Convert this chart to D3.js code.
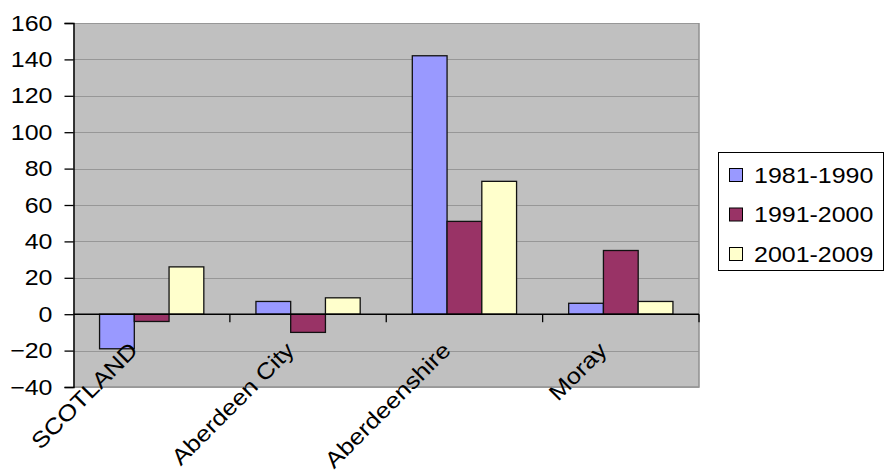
<!DOCTYPE html>
<html>
<head>
<meta charset="utf-8">
<script src="https://d3js.org/d3.v7.min.js"></script>
<style>
  body { margin: 0; background: #fff; }
  text { font-family: "Liberation Sans", Arial, sans-serif; fill: #000; }
</style>
</head>
<body>
<svg id="chart" width="886" height="472"></svg>
<script>
// data
var categories = ["SCOTLAND", "Aberdeen City", "Aberdeenshire", "Moray"];
var series = ["1981-1990", "1991-2000", "2001-2009"];
var v1981 = [-19, 7, 142, 6];
var v1991 = [-4, -10, 51, 35];
var v2001 = [26, 9, 73, 7];
var yTicks = [-40, -20, 0, 20, 40, 60, 80, 100, 120, 140, 160];
var colors = ["#9999ff", "#993366", "#ffffcc"];

var values = [v1981, v1991, v2001];

var svg = d3.select("#chart");
// (window.top is read-only, so plot edges get their own names)
var plotL = 73.5, plotR = 699, plotT = 23, plotB = 387;
var fontSize = 22.3, stretch = 1.12;

var x0 = d3.scaleBand().domain(categories).range([plotL, plotR]).padding(0);
var x1 = d3.scaleBand().domain(series).range([0, x0.bandwidth()])
    .paddingInner(0).paddingOuter(0.75);
var y = d3.scaleLinear().domain([-40, 160]).range([plotB, plotT]);

// plot area
svg.append("rect")
    .attr("x", plotL).attr("y", plotT)
    .attr("width", plotR - plotL).attr("height", plotB - plotT)
    .attr("fill", "#c0c0c0");

// gridlines
svg.append("g").selectAll("line")
    .data(yTicks.filter(function(d) { return d !== 0; }))
    .enter().append("line")
    .attr("x1", plotL).attr("x2", plotR)
    .attr("y1", function(d) { return Math.round(y(d)) + 0.5; })
    .attr("y2", function(d) { return Math.round(y(d)) + 0.5; })
    .attr("stroke", "#6e6e6e")
    .attr("stroke-dasharray", "1,1");

// right / bottom border
svg.append("path")
    .attr("d", "M" + plotR + "," + plotT + "V" + plotB + "H" + plotL)
    .attr("fill", "none").attr("stroke", "#909090").attr("stroke-width", 1.5);

// bars
series.forEach(function(s, i) {
    svg.append("g").selectAll("rect")
        .data(values[i])
        .enter().append("rect")
        .attr("x", function(d, j) { return x0(categories[j]) + x1(s); })
        .attr("y", function(d) { return y(Math.max(0, d)); })
        .attr("width", x1.bandwidth())
        .attr("height", function(d) { return Math.abs(y(d) - y(0)); })
        .attr("fill", colors[i])
        .attr("stroke", "#111")
        .attr("stroke-width", 1.3);
});

// y axis
var yAxis = d3.axisLeft(y).tickValues(yTicks).tickSize(9).tickPadding(12);
var gy = svg.append("g").attr("transform", "translate(" + plotL + ",0)").call(yAxis);
gy.select(".domain").attr("stroke", "#000").attr("stroke-width", 1.5);
gy.selectAll(".tick line").attr("stroke", "#000").attr("stroke-width", 1.3);
gy.selectAll(".tick text")
    .attr("font-size", fontSize)
    .attr("font-family", "Liberation Sans, Arial, sans-serif")
    .attr("transform", function() {
        var xx = +d3.select(this).attr("x");
        return "translate(" + xx + ",0) scale(" + stretch + ",1) translate(" + (-xx) + ",0)";
    });

// zero axis with category ticks
var boundaries = categories.map(function(c) { return x0(c) + x0.bandwidth(); });
svg.append("line")
    .attr("x1", plotL).attr("x2", plotR)
    .attr("y1", y(0)).attr("y2", y(0))
    .attr("stroke", "#000").attr("stroke-width", 1.5);
svg.append("g").selectAll("line")
    .data(boundaries)
    .enter().append("line")
    .attr("x1", function(d) { return d; }).attr("x2", function(d) { return d; })
    .attr("y1", y(0)).attr("y2", y(0) + 8)
    .attr("stroke", "#000").attr("stroke-width", 1.3);

// category labels, rotated
svg.append("g").selectAll("text")
    .data(categories)
    .enter().append("text")
    .attr("text-anchor", "end")
    .attr("font-size", fontSize)
    .attr("dy", "0.35em")
    .attr("transform", function(d) {
        var cx = x0(d) + x0.bandwidth() / 2 - 18;
        return "translate(" + cx + "," + (y(0) + 32) + ") rotate(-45) scale(1.15,1)";
    })
    .text(function(d) { return d; });

// legend
var legend = svg.append("g").attr("transform", "translate(718.5,152.5)");
legend.append("rect")
    .attr("width", 165).attr("height", 118)
    .attr("fill", "#fff").attr("stroke", "#000");
var rows = legend.selectAll(".row")
    .data(series)
    .enter().append("g")
    .attr("class", "row")
    .attr("transform", function(d, i) { return "translate(0," + (22.5 + i * 39.5) + ")"; });
rows.append("rect")
    .attr("x", 11).attr("y", -6.5)
    .attr("width", 13).attr("height", 13)
    .attr("fill", function(d, i) { return colors[i]; })
    .attr("stroke", "#000");
rows.append("text")
    .attr("x", 0)
    .attr("dy", "0.35em")
    .attr("font-size", fontSize)
    .attr("transform", "translate(35.5,0) scale(" + stretch + ",1)")
    .text(function(d) { return d; });
</script>
</body>
</html>
